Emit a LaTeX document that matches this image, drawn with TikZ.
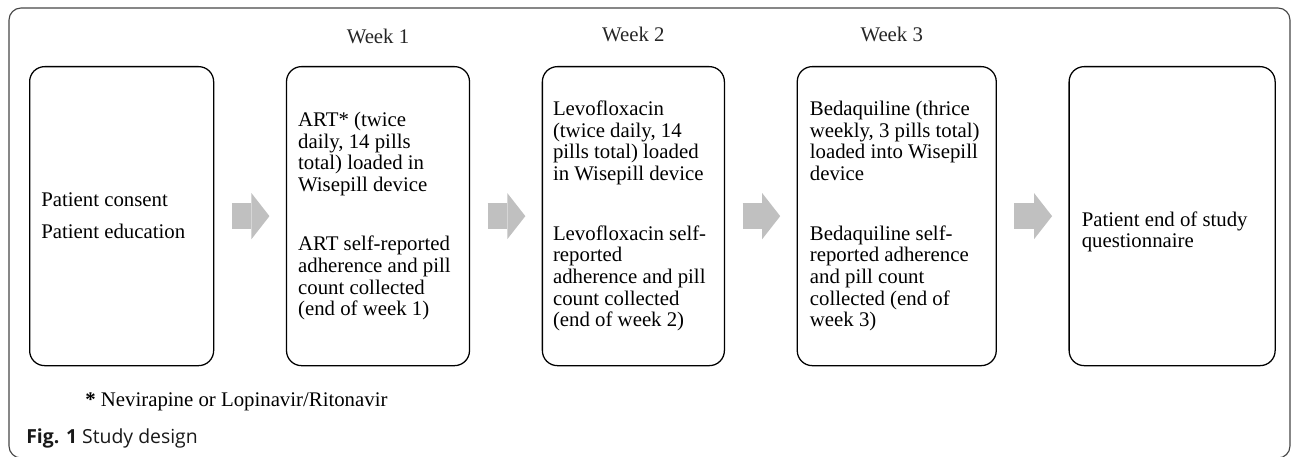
\documentclass[tikz,border=0pt]{standalone}
\usepackage{fontspec}
\setmainfont{Liberation Serif}
\newfontfamily\capfont{Open Sans}
\usepackage{tikz}
\usetikzlibrary{arrows,arrows.meta,positioning,calc}
\definecolor{arrowgray}{RGB}{192,192,192}
\definecolor{framegray}{RGB}{70,70,70}
\tikzset{>=stealth',
         stage/.style={draw, line width=0.9pt, rounded corners=3.75mm,
           minimum height=74.75mm, inner sep=0pt},
         stagetext/.style={anchor=west, align=left, inner sep=0pt,
           font=\fontsize{14.8}{15.4}\selectfont},
         weeklabel/.style={inner sep=0pt, text=black!85,
           font=\fontsize{14.8}{15.4}\selectfont},
         blockarrow/.style={arrowgray, line width=6.5mm,
           -{Triangle[length=4.5mm,width=11.5mm,line width=0pt]}}}

\begin{document}
\begin{tikzpicture}[x=0.25mm,y=-0.25mm]
            \useasboundingbox (0,0) rectangle (1292,457);
            \draw[framegray, line width=0.8pt, rounded corners=3mm]
                 (9,8) rectangle (1290,458);
            \node[stage, minimum width=46mm, anchor=north west] (b1) at (29,66) {};
            \node[stage, minimum width=45.75mm, right=17.9mm of b1] (b2) {};
            \node[stage, minimum width=45.5mm, right=17.9mm of b2] (b3) {};
            \node[stage, minimum width=49.75mm, right=17.9mm of b3] (b4) {};
            \node[stage, minimum width=51.5mm, right=17.9mm of b4] (b5) {};
            \foreach \a/\b in {b1/b2,b2/b3,b3/b4,b4/b5}
                 \draw[blockarrow] ([xshift=4.4mm]\a.east) -- ([xshift=-4.1mm]\b.west);
            % week headings
            \node[weeklabel, above=5.4mm of b2.north] (w1) {Week 1};
            \node[weeklabel, above=6mm of b3.north] (w2) {Week 2};
            \node[weeklabel, above=6mm of b4.north, xshift=-1.25mm] (w3) {Week 3};
            % box texts
            \node[stagetext] (t1) at ([xshift=3mm]b1.west)
                 {Patient consent\\[2.6mm]Patient education};
            \node[stagetext] (t2) at ([xshift=3mm]b2.west)
                 {ART* (twice\\daily, 14 pills\\total) loaded in\\Wisepill device\\[9.5mm]
                  ART self-reported\\adherence and pill\\count collected\\(end of week 1)};
            \node[stagetext] (t3) at ([xshift=2.75mm]b3.west)
                 {Levofloxacin\\(twice daily, 14\\pills total) loaded\\in Wisepill device\\[9.5mm]
                  Levofloxacin self-\\reported\\adherence and pill\\count collected\\(end of week 2)};
            \node[stagetext] (t4) at ([xshift=3.25mm]b4.west)
                 {Bedaquiline (thrice\\weekly, 3 pills total)\\loaded into Wisepill\\device\\[9.5mm]
                  Bedaquiline self-\\reported adherence\\and pill count\\collected (end of\\week 3)};
            \node[stagetext] (t5) at ([xshift=3.25mm,yshift=-3.9mm]b5.west)
                 {Patient end of study\\questionnaire};
            % footnote and caption
            \node[stagetext] (note) at (85,402)
                 {\textbf{*} Nevirapine or Lopinavir/Ritonavir};
            \node[anchor=west, inner sep=0pt, text=black!90,
                 font=\capfont\fontsize{13.8}{15}\selectfont] (cap) at (26,438)
                 {\textbf{Fig. 1} Study design};
          \end{tikzpicture}
\end{document}
